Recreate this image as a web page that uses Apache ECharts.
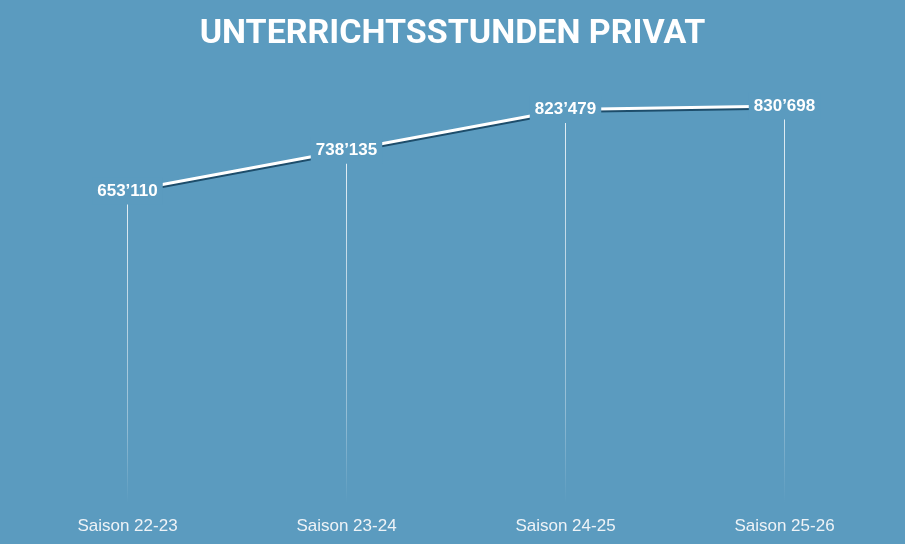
<!DOCTYPE html>
<html><head><meta charset="utf-8">
<script src="https://cdn.jsdelivr.net/npm/echarts@6/dist/echarts.min.js"></script>
<style>html,body{margin:0;padding:0;background:#5b9bbf;}#c{width:905px;height:544px;}</style>
</head><body><div id="c"></div>
<script>
const titleText = 'UNTERRICHTSSTUNDEN PRIVAT';
const categories = ['Saison 22-23', 'Saison 23-24', 'Saison 24-25', 'Saison 25-26'];
const hours = [653110, 738135, 823479, 830698];
const BG = '#5b9bbf';
function fmt(v){ return String(v).replace(/\B(?=(\d{3})+(?!\d))/g, '\u2019'); }
const chart = echarts.init(document.getElementById('c'));
chart.setOption({
  backgroundColor: BG,
  animation: false,
  title: {
    text: titleText, left: 'center', top: 12,
    textStyle: { color: '#ffffff', fontFamily: 'Roboto', fontWeight: 'bold', fontSize: 34 }
  },
  grid: { left: 18, right: 11, top: 73, bottom: 41 },
  xAxis: {
    type: 'category', data: categories, boundaryGap: true,
    axisLine: { show: false }, axisTick: { show: false },
    axisLabel: { color: '#eef3f7', fontFamily: 'Liberation Sans', fontSize: 17, margin: 15 }
  },
  yAxis: { type: 'value', min: 0, max: 900000, show: false, splitLine: { show: false } },
  series: [
    {
      type: 'bar', data: hours, barWidth: 1, silent: true,
      itemStyle: { color: new echarts.graphic.LinearGradient(0, 0, 0, 1, [
        { offset: 0, color: 'rgba(255,255,255,0.85)' },
        { offset: 0.75, color: 'rgba(255,255,255,0.35)' },
        { offset: 1, color: 'rgba(255,255,255,0)' }
      ]) }
    },
    {
      type: 'line', data: hours, symbol: 'circle', symbolSize: 0, z: 5,
      lineStyle: { color: '#ffffff', width: 3, shadowColor: '#1d4d6b', shadowOffsetY: 2, shadowBlur: 0 },
      label: {
        show: true, position: 'inside', formatter: p => fmt(p.value),
        color: '#ffffff', fontFamily: 'Liberation Sans', fontWeight: 'bold', fontSize: 17,
        backgroundColor: BG, padding: [5, 5]
      }
    }
  ]
});
</script></body></html>
